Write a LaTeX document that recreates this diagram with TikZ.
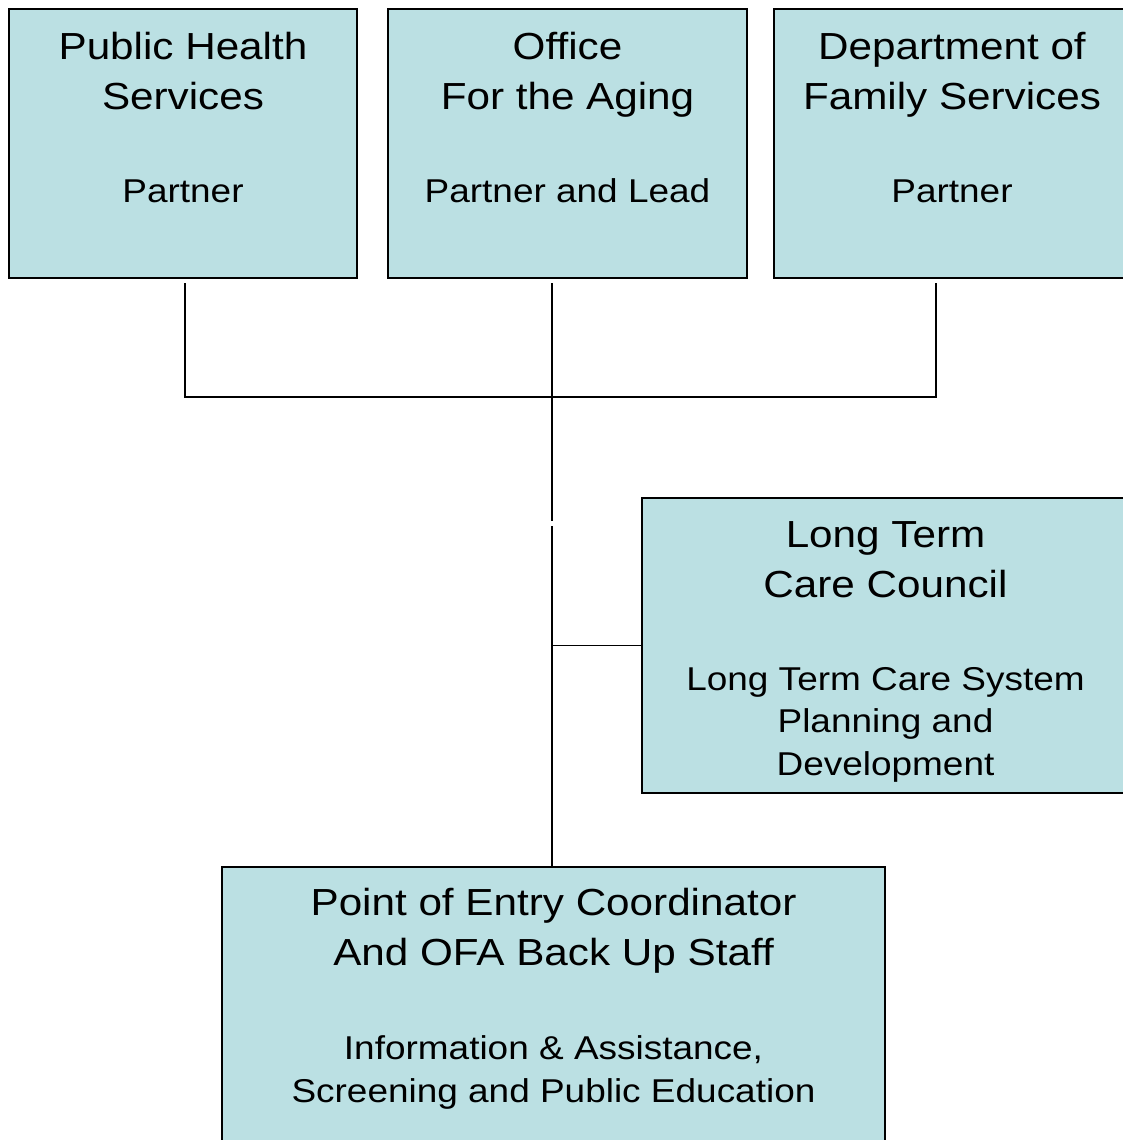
\documentclass[tikz,border=0pt]{standalone}
\usepackage{fontspec}
\setmainfont{Liberation Sans}[FakeStretch=1.12]
\definecolor{unitfill}{RGB}{187,224,227}
\tikzset{
	unit/.style={draw=black, fill=unitfill, line width=2pt, anchor=north west, inner sep=0pt},
	head/.style={font=\fontsize{37.7}{50}\selectfont, align=center, inner sep=0pt, anchor=base},
	role/.style={font=\fontsize{33}{42.5}\selectfont, align=center, inner sep=0pt, anchor=base},
	link/.style={draw=black, line width=1.6pt}
}
\begin{document}
\begin{tikzpicture}[x=1pt, y=-1pt]
	\useasboundingbox (0,0) rectangle (1122,1140);
	\node[unit, minimum width=348pt, minimum height=269pt] (phs) at (8,8) {};
	\node[unit, minimum width=359pt, minimum height=269pt] (ofa) at (387,8) {};
	\node[unit, minimum width=356pt, minimum height=269pt] (dfs) at (773,8) {};
	\node[unit, minimum width=487pt, minimum height=295pt] (ltcc) at (641,497) {};
	\node[unit, minimum width=663pt, minimum height=300pt] (poe) at (221,866) {};

	\node[head] (phs-head) at ([yshift=-101pt]phs.north) {Public Health\\Services};
	\node[role] (phs-role) at ([yshift=-194pt]phs.north) {Partner};
	\node[head] (ofa-head) at ([yshift=-101pt]ofa.north) {Office\\For the Aging};
	\node[role] (ofa-role) at ([yshift=-194pt]ofa.north) {Partner and Lead};
	\node[head] (dfs-head) at ([yshift=-101pt]dfs.north) {Department of\\Family Services};
	\node[role] (dfs-role) at ([yshift=-194pt]dfs.north) {Partner};
	\node[head] (ltcc-head) at ([yshift=-100pt]ltcc.north) {Long Term\\Care Council};
	\node[role] (ltcc-role) at ([yshift=-278pt]ltcc.north) {Long Term Care System\\Planning and\\Development};
	\node[head] (poe-head) at ([yshift=-99pt]poe.north) {Point of Entry Coordinator\\And OFA Back Up Staff};
	\node[role] (poe-role) at ([yshift=-236pt]poe.north) {Information \& Assistance,\\Screening and Public Education};

	\coordinate (bus) at (552,397);
	\coordinate (trunk-end) at (552,521);
	\coordinate (trunk-start) at (552,526);
	\draw[link] ([xshift=2pt,yshift=-4pt]phs.south) |- (bus) -| ([xshift=-16pt,yshift=-4pt]dfs.south);
	\draw[link] ([yshift=-4pt]ofa.south -| bus) -- (trunk-end);
	\draw[link] (trunk-start) -- (poe.north -| bus);
	\draw[link] (ltcc.west -| bus) -- (ltcc.west);
\end{tikzpicture}
\end{document}
